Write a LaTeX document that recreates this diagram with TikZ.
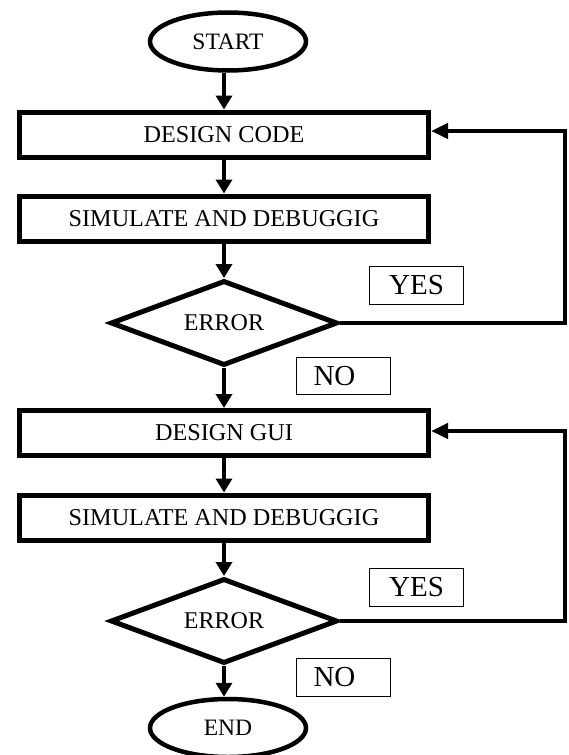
\documentclass[tikz,border=0pt]{standalone}
\usepackage{fontspec}
\setmainfont{Liberation Serif}
\usetikzlibrary{shapes.geometric,arrows.meta}

\tikzset{
  stepbox/.style={draw, line width=5pt, rectangle, inner sep=0pt,
    minimum width=409pt, minimum height=45pt,
    font=\fontsize{24.2}{28}\selectfont},
  terminal/.style={draw, line width=4.5pt, ellipse, inner sep=0pt,
    minimum width=156pt, minimum height=58pt,
    font=\fontsize{23.5}{28}\selectfont},
  decision/.style={draw, line width=5pt, diamond, aspect=2.7, inner sep=0pt,
    minimum width=227pt, minimum height=85pt,
    font=\fontsize{24}{28}\selectfont},
  tag/.style={draw, line width=1.4pt, rectangle, inner sep=0pt,
    minimum width=93.5pt, minimum height=37.5pt,
    font=\fontsize{29}{34}\selectfont},
  tagleft/.style={tag, text width=60pt, align=left, inner xsep=16.75pt},
  flow/.style={line width=4pt, -{Triangle[length=14pt,width=16pt]}},
  loop/.style={line width=4.5pt, line join=miter, -{Triangle[length=17pt,width=15pt]}}
}

\begin{document}
\begin{tikzpicture}[x=1pt, y=-1pt]
  \useasboundingbox (0,0) rectangle (568,755);

  % main column
  \node[terminal] (start) at (228,41.5) {START};
  \node[stepbox]  (code)  at (224,134.5) {DESIGN CODE};
  \node[stepbox]  (sim1)  at (224,218.5) {SIMULATE AND DEBUGGIG};
  \node[decision] (err1)  at (224,323) {ERROR};
  \node[stepbox]  (gui)   at (224,433) {DESIGN GUI};
  \node[stepbox]  (sim2)  at (224,517.5) {SIMULATE AND DEBUGGIG};
  \node[decision] (err2)  at (224,621) {ERROR};
  \node[terminal] (end)   at (228,728) {END};

  % branch labels
  \node[tag]     (yes1) at (416.5,285.5) {YES};
  \node[tagleft] (no1)  at (343.5,376)   {NO};
  \node[tag]     (yes2) at (416.5,587.5) {YES};
  \node[tagleft] (no2)  at (343.5,677.5) {NO};

  % downward flow
  \draw[flow] (start.south -| code.center) -- (code.north);
  \draw[flow] (code) -- (sim1);
  \draw[flow] (sim1.south) -- (err1.north);
  \draw[flow] (err1.south) -- (gui.north);
  \draw[flow] (gui) -- (sim2);
  \draw[flow] (sim2.south) -- (err2.north);
  \draw[flow] (err2.south) -- (end.north -| err2.south);

  % loops back on error
  \coordinate (r1) at (565,131);
  \coordinate (r2) at (565,431);
  \draw[loop] (err1.east) -| (r1) -- ([yshift=3.5pt]code.east);
  \draw[loop] (err2.east) -| (r2) -- ([yshift=2pt]gui.east);
\end{tikzpicture}
\end{document}
